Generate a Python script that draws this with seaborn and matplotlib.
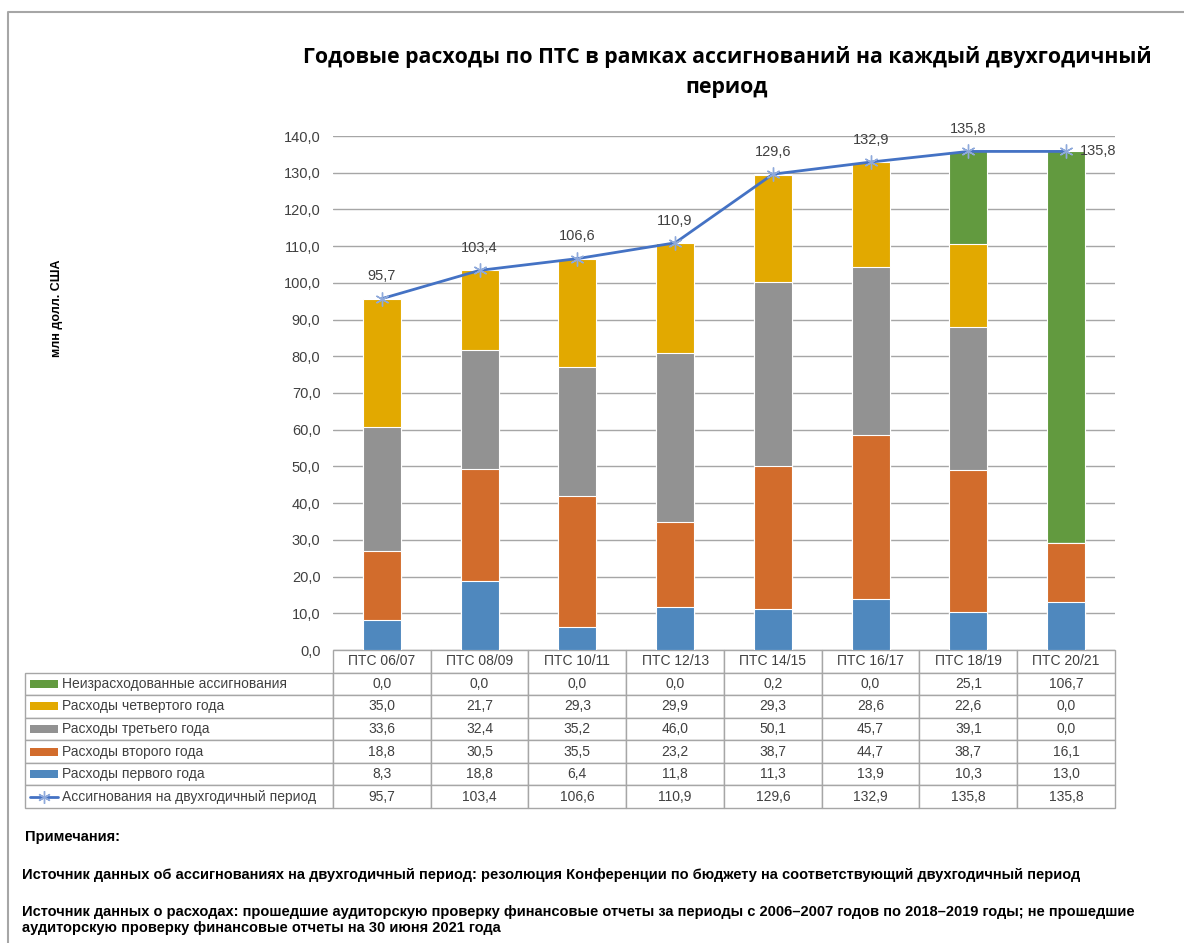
import numpy as np
import pandas as pd
import matplotlib
matplotlib.use("Agg")
import matplotlib.pyplot as plt
from matplotlib.patches import Rectangle
from matplotlib.lines import Line2D
import seaborn as sns

# data
periods = ["ПТС 06/07", "ПТС 08/09", "ПТС 10/11", "ПТС 12/13",
           "ПТС 14/15", "ПТС 16/17", "ПТС 18/19", "ПТС 20/21"]
year1 = [8.3, 18.8, 6.4, 11.8, 11.3, 13.9, 10.3, 13.0]
year2 = [18.8, 30.5, 35.5, 23.2, 38.7, 44.7, 38.7, 16.1]
year3 = [33.6, 32.4, 35.2, 46.0, 50.1, 45.7, 39.1, 0.0]
year4 = [35.0, 21.7, 29.3, 29.9, 29.3, 28.6, 22.6, 0.0]
unspent = [0.0, 0.0, 0.0, 0.0, 0.2, 0.0, 25.1, 106.7]
allocation = [95.7, 103.4, 106.6, 110.9, 129.6, 132.9, 135.8, 135.8]

lbl_unspent = "Неизрасходованные ассигнования"
lbl_y4 = "Расходы четвертого года"
lbl_y3 = "Расходы третьего года"
lbl_y2 = "Расходы второго года"
lbl_y1 = "Расходы первого года"
lbl_alloc = "Ассигнования на двухгодичный период"

title = "Годовые расходы по ПТС в рамках ассигнований на каждый двухгодичный\nпериод"
ylabel = "млн долл. США"
notes_head = "Примечания:"
note1 = ("Источник данных об ассигнованиях на двухгодичный период: резолюция Конференции "
         "по бюджету на соответствующий двухгодичный период")
note2 = ("Источник данных о расходах: прошедшие аудиторскую проверку финансовые отчеты за периоды "
         "с 2006–2007 годов по 2018–2019 годы; не прошедшие\nаудиторскую проверку финансовые "
         "отчеты на 30 июня 2021 года")

c_y1, c_y2, c_y3, c_y4, c_un = "#4F88BE", "#D26C2C", "#929292", "#E2A900", "#629A3F"
c_line, c_mark = "#4472C4", "#8EA9DB"
txt = "#404040"

sns.set_style("white")
plt.rcParams["font.family"] = ["Liberation Sans", "DejaVu Sans"]

W, H = 1184, 943
def fx(p):
    return p / W
def fy(p):
    return 1 - p / H

fig = plt.figure(figsize=(W / 100, H / 100), dpi=100)
ax = fig.add_axes([fx(333), fy(650), fx(1115) - fx(333), fy(136) - fy(650)])

df = pd.DataFrame({"period": periods, "y1": year1, "y2": year2, "y3": year3,
                   "y4": year4, "un": unspent})
layers = [("y1", c_y1), ("y2", c_y2), ("y3", c_y3), ("y4", c_y4), ("un", c_un)]
cum = df[[k for k, _ in layers]].cumsum(axis=1)

# stacked bars by overdrawing cumulative totals, tallest first
for k, col in layers[::-1]:
    sns.barplot(x=df["period"], y=cum[k], color=col, saturation=1, width=0.39,
                edgecolor="white", linewidth=0.8, ax=ax, zorder=2)

sns.pointplot(x=periods, y=allocation, color=c_line, markers=(6, 2, 0),
              markersize=10, markeredgecolor=c_mark, markeredgewidth=1.0,
              linewidth=2, errorbar=None, ax=ax, zorder=4)

for i, v in enumerate(allocation):
    s = f"{v:.1f}".replace(".", ",")
    if i == len(allocation) - 1:
        ax.annotate(s, (i, v), xytext=(10, 0), textcoords="offset points",
                    ha="left", va="center", fontsize=10.5, color=txt)
    else:
        ax.annotate(s, (i, v), xytext=(0, 16), textcoords="offset points",
                    ha="center", va="center", fontsize=10.5, color=txt)

ax.set_ylim(0, 140)
ax.set_xlim(-0.5, 7.5)
ax.set_yticks(np.arange(0, 141, 10))
ax.set_yticklabels([f"{v:.1f}".replace(".", ",") for v in np.arange(0, 141, 10)],
                   color=txt, fontsize=10.5)
ax.set_xticklabels([])
ax.tick_params(axis="both", length=0)
ax.tick_params(axis="y", pad=9)
ax.set_xlabel("")
ax.set_ylabel("")
ax.yaxis.grid(True, color="#A6A6A6", linewidth=1)
ax.set_axisbelow(True)
for sp in ax.spines.values():
    sp.set_visible(False)

# data table
def f(v):
    return f"{v:.1f}".replace(".", ",")
row_defs = [(lbl_unspent, unspent), (lbl_y4, year4), (lbl_y3, year3),
            (lbl_y2, year2), (lbl_y1, year1), (lbl_alloc, allocation)]
cell_text = [[lab] + [f(v) for v in vals] for lab, vals in row_defs]
ax_w = 1115 - 333
ax_h = 650 - 136
tbl = ax.table(cellText=cell_text, colLabels=[""] + periods,
               colWidths=[308] + [97.75] * 8, cellLoc="center",
               bbox=[-308 / ax_w, -158 / ax_h, 1090 / ax_w, 158 / ax_h])
tbl.auto_set_font_size(False)
tbl.set_fontsize(10)
for (r, c), cell in tbl.get_celld().items():
    cell.set_edgecolor("#A6A6A6")
    cell.set_linewidth(1)
    cell.get_text().set_color(txt)
    if r == 0 and c == 0:
        cell.visible_edges = "open"
    if c == 0 and r > 0:
        cell.get_text().set_ha("left")
        cell.PAD = 37 / 308

# legend keys in the table
row_h = 158 / 7
key_cols = [c_un, c_y4, c_y3, c_y2, c_y1]
for i, col in enumerate(key_cols):
    yc = 650 + row_h * (i + 1.5)
    fig.add_artist(Rectangle((fx(30), fy(yc + 4)), fx(58) - fx(30), 8 / H,
                             transform=fig.transFigure, facecolor=col, edgecolor="none"))
yc = 650 + row_h * 6.5
fig.add_artist(Line2D([fx(30), fx(58)], [fy(yc), fy(yc)], transform=fig.transFigure,
                      color=c_line, linewidth=2))
fig.add_artist(Line2D([fx(44)], [fy(yc)], transform=fig.transFigure, marker=(6, 2, 0),
                      markersize=9, markeredgecolor=c_mark, markeredgewidth=1.0,
                      linestyle="none"))

# titles and notes
fig.text(fx(727), fy(72), title, ha="center", va="center", fontsize=15.3,
         fontweight="bold", family=["Open Sans", "DejaVu Sans"], linespacing=1.5,
         color="black")
fig.text(fx(57), fy(308), ylabel, rotation=90, ha="center", va="center",
         fontsize=9, fontweight="bold", color="black")
note_font = ["Liberation Sans", "DejaVu Sans"]
fig.text(fx(25), fy(837), notes_head, ha="left", va="center", fontsize=10.5,
         fontweight="bold", family=note_font, color="black")
fig.text(fx(22), fy(875), note1, ha="left", va="center", fontsize=10.5,
         fontweight="bold", family=note_font, color="black")
fig.text(fx(22), fy(920), note2, ha="left", va="center", fontsize=10.5,
         fontweight="bold", family=note_font, linespacing=1.25, color="black")

# chart border
fig.add_artist(Line2D([1, fx(8), fx(8)], [fy(12), fy(12), 0], transform=fig.transFigure,
                      color="#A6A6A6", linewidth=1.5))

fig.savefig("out.png", dpi=100)
